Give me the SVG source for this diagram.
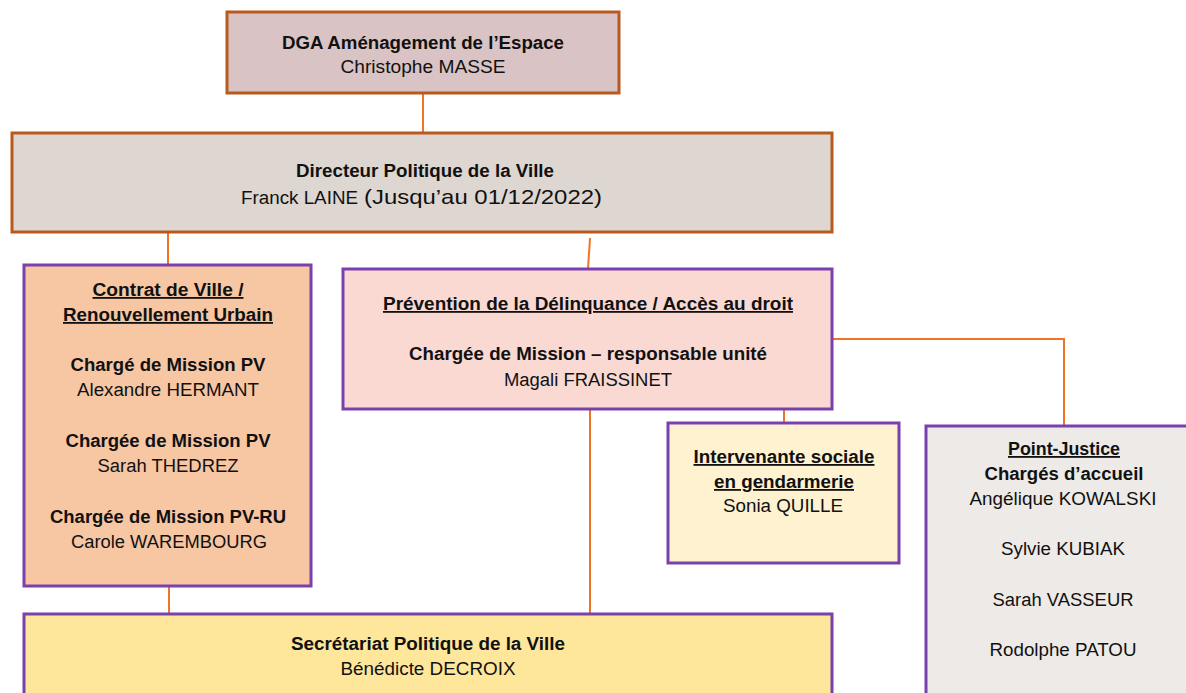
<svg xmlns="http://www.w3.org/2000/svg" width="1186" height="693" viewBox="0 0 1186 693">
<style>
text{font-family:"Liberation Sans",Arial,sans-serif;fill:#111;text-anchor:middle}
.b{font-weight:bold;font-size:18px}
.r{font-size:18px}
.u{text-decoration:underline}
.box1{stroke:#b85a1d;stroke-width:3}
.box2{stroke:#7a40ad;stroke-width:3}
.con{stroke:#ee7527;stroke-width:2;fill:none}
</style>
<rect width="1186" height="693" fill="#fff"/>
<g id="connectors">
<line class="con" x1="423" y1="93" x2="423" y2="133"/>
<line class="con" x1="168" y1="232" x2="168" y2="265"/>
<line class="con" x1="590" y1="238" x2="588" y2="269"/>
<line class="con" x1="590" y1="409" x2="590" y2="614"/>
<line class="con" x1="169" y1="586" x2="169" y2="614"/>
<line class="con" x1="784" y1="409" x2="784" y2="423"/>
<polyline class="con" points="832,339 1064,339 1064,426"/>
</g>
<g id="dga">
<rect class="box1" x="227" y="12" width="392" height="81" fill="#d9c3c4"/>
<text class="b" x="423" y="49" font-size="19" textLength="282" lengthAdjust="spacingAndGlyphs">DGA Aménagement de l’Espace</text>
<text class="r" x="423" y="73" textLength="165" lengthAdjust="spacingAndGlyphs">Christophe MASSE</text>
</g>
<g id="directeur">
<rect class="box1" x="12" y="133" width="820" height="99" fill="#ddd6d1"/>
<text class="b" x="425" y="177" textLength="258" lengthAdjust="spacingAndGlyphs">Directeur Politique de la Ville</text>
<text x="241" y="204" style="text-anchor:start"><tspan font-size="18" textLength="117" lengthAdjust="spacingAndGlyphs">Franck LAINE</tspan><tspan font-size="21" dx="6" textLength="238" lengthAdjust="spacingAndGlyphs">(Jusqu’au 01/12/2022)</tspan></text>
</g>
<g id="contrat">
<rect class="box2" x="24" y="265" width="287" height="321" fill="#f7c6a3"/>
<text class="b u" x="168" y="296" textLength="151" lengthAdjust="spacingAndGlyphs">Contrat de Ville /</text>
<text class="b u" x="168" y="321" textLength="210" lengthAdjust="spacingAndGlyphs">Renouvellement Urbain</text>
<text class="b" x="168" y="371" textLength="195" lengthAdjust="spacingAndGlyphs">Chargé de Mission PV</text>
<text class="r" x="168" y="396" textLength="182" lengthAdjust="spacingAndGlyphs">Alexandre HERMANT</text>
<text class="b" x="168" y="447" textLength="205" lengthAdjust="spacingAndGlyphs">Chargée de Mission PV</text>
<text class="r" x="168" y="472" textLength="141" lengthAdjust="spacingAndGlyphs">Sarah THEDREZ</text>
<text class="b" x="168" y="523" textLength="236" lengthAdjust="spacingAndGlyphs">Chargée de Mission PV-RU</text>
<text class="r" x="169" y="548" textLength="196" lengthAdjust="spacingAndGlyphs">Carole WAREMBOURG</text>
</g>
<g id="prevention">
<rect class="box2" x="343" y="269" width="489" height="140" fill="#fad9d3"/>
<text class="b u" x="588" y="310" textLength="410" lengthAdjust="spacingAndGlyphs">Prévention de la Délinquance / Accès au droit</text>
<text class="b" x="588" y="360" textLength="358" lengthAdjust="spacingAndGlyphs">Chargée de Mission – responsable unité</text>
<text class="r" x="588" y="386" textLength="168" lengthAdjust="spacingAndGlyphs">Magali FRAISSINET</text>
</g>
<g id="intervenante">
<rect class="box2" x="668" y="423" width="231" height="140" fill="#fef2d0"/>
<text class="b u" x="784" y="463" textLength="181" lengthAdjust="spacingAndGlyphs">Intervenante sociale</text>
<text class="b u" x="784" y="488" textLength="140" lengthAdjust="spacingAndGlyphs">en gendarmerie</text>
<text class="r" x="783" y="512" textLength="120" lengthAdjust="spacingAndGlyphs">Sonia QUILLE</text>
</g>
<g id="pointjustice">
<rect class="box2" x="926" y="426" width="270" height="280" fill="#edeae7"/>
<text class="b u" x="1064" y="455" textLength="112" lengthAdjust="spacingAndGlyphs">Point-Justice</text>
<text class="b" x="1064" y="480" textLength="159" lengthAdjust="spacingAndGlyphs">Chargés d’accueil</text>
<text class="r" x="1063" y="505" textLength="187" lengthAdjust="spacingAndGlyphs">Angélique KOWALSKI</text>
<text class="r" x="1063" y="555" textLength="124" lengthAdjust="spacingAndGlyphs">Sylvie KUBIAK</text>
<text class="r" x="1063" y="606" textLength="141" lengthAdjust="spacingAndGlyphs">Sarah VASSEUR</text>
<text class="r" x="1063" y="656" textLength="147" lengthAdjust="spacingAndGlyphs">Rodolphe PATOU</text>
</g>
<g id="secretariat">
<rect class="box2" x="24" y="614" width="808" height="90" fill="#fee69b"/>
<text class="b" x="428" y="650" textLength="274" lengthAdjust="spacingAndGlyphs">Secrétariat Politique de la Ville</text>
<text class="r" x="428" y="675" textLength="175" lengthAdjust="spacingAndGlyphs">Bénédicte DECROIX</text>
</g>
</svg>
